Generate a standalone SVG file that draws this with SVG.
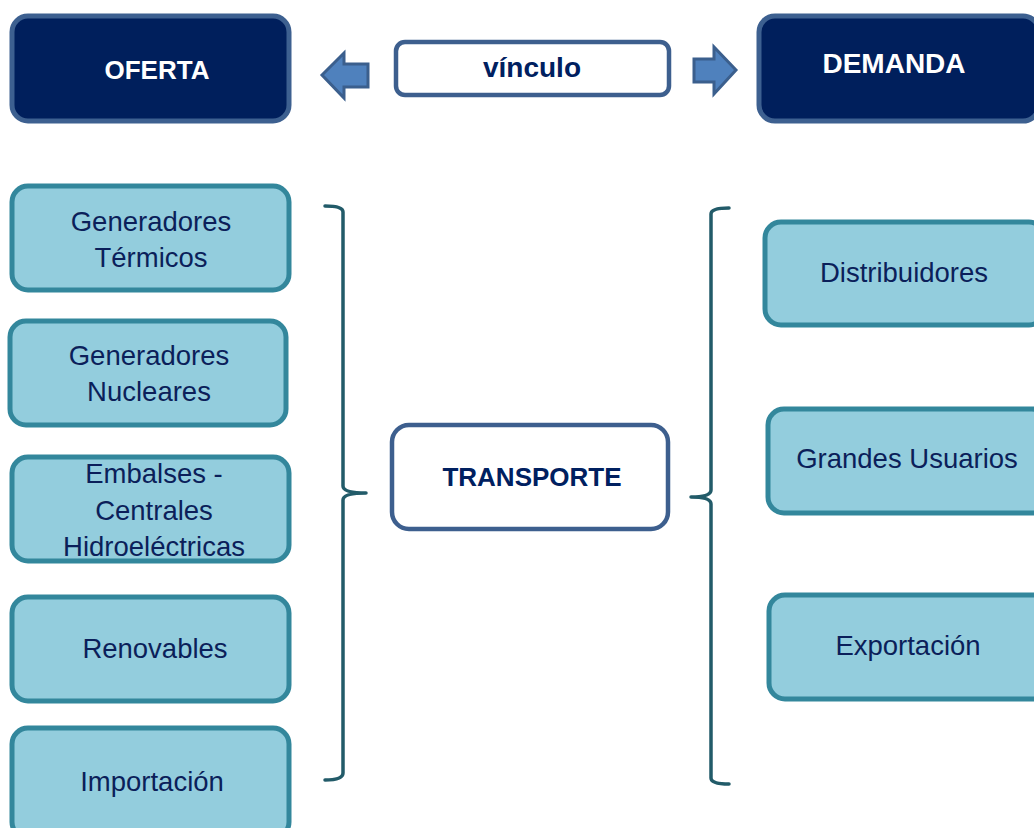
<svg xmlns="http://www.w3.org/2000/svg" width="1034" height="828" viewBox="0 0 1034 828">
  <style>
    .hdr { fill: #001f5c; stroke: #3d6090; stroke-width: 5; }
    .link { fill: #ffffff; stroke: #3d5f8e; stroke-width: 4.5; }
    .item { fill: #93cddd; stroke: #33879c; stroke-width: 5; }
    .arrow { fill: #4f81bd; stroke: #3b5f8d; stroke-width: 3; }
    .brace { fill: none; stroke: #225b69; stroke-width: 3.5; stroke-linecap: round; stroke-linejoin: round; }
    .t { font-family: "Liberation Sans", Arial, sans-serif; font-size: 27.5px; fill: #0b1f5a; text-anchor: middle; }
    .b { font-weight: bold; font-size: 26px; fill: #002060; }
    .w { font-weight: bold; font-size: 26px; fill: #ffffff; }
    .lg { font-size: 28px; }
  </style>

  <!-- header nodes -->
  <g id="oferta">
    <rect class="hdr" x="12" y="16" width="277" height="105" rx="16"/>
    <text class="t w" x="157" y="79">OFERTA</text>
  </g>
  <g id="vinculo">
    <rect class="link" x="396" y="42" width="273" height="53" rx="9"/>
    <text class="t b lg" x="532" y="77">vínculo</text>
  </g>
  <g id="demanda">
    <rect class="hdr" x="759" y="16" width="280" height="105" rx="16"/>
    <text class="t w lg" x="894" y="73">DEMANDA</text>
  </g>

  <!-- supply side -->
  <g id="gen-termicos">
    <rect class="item" x="12" y="186" width="277" height="104" rx="16"/>
    <text class="t" x="151" y="231">Generadores</text>
    <text class="t" x="151" y="267">Térmicos</text>
  </g>
  <g id="gen-nucleares">
    <rect class="item" x="10" y="321" width="276" height="104" rx="16"/>
    <text class="t" x="149" y="365">Generadores</text>
    <text class="t" x="149" y="401">Nucleares</text>
  </g>
  <g id="embalses">
    <rect class="item" x="12" y="457" width="277" height="104" rx="16"/>
    <text class="t" x="154" y="483">Embalses -</text>
    <text class="t" x="154" y="520">Centrales</text>
    <text class="t" x="154" y="556">Hidroeléctricas</text>
  </g>
  <g id="renovables">
    <rect class="item" x="12" y="597" width="277" height="104" rx="16"/>
    <text class="t" x="155" y="658">Renovables</text>
  </g>
  <g id="importacion">
    <rect class="item" x="12" y="728" width="277" height="110" rx="16"/>
    <text class="t" x="152" y="791">Importación</text>
  </g>

  <!-- transport -->
  <g id="transporte">
    <rect class="link" x="392" y="425" width="276" height="104" rx="17"/>
    <text class="t b" x="532" y="486">TRANSPORTE</text>
  </g>

  <!-- demand side -->
  <g id="distribuidores">
    <rect class="item" x="765" y="222" width="280" height="103" rx="16"/>
    <text class="t" x="904" y="282">Distribuidores</text>
  </g>
  <g id="grandes-usuarios">
    <rect class="item" x="768" y="409" width="280" height="104" rx="16"/>
    <text class="t" x="907" y="468">Grandes Usuarios</text>
  </g>
  <g id="exportacion">
    <rect class="item" x="769" y="595" width="280" height="104" rx="16"/>
    <text class="t" x="908" y="655">Exportación</text>
  </g>

  <!-- connectors: arrows and braces -->
  <g id="connectors">
    <polygon class="arrow" points="322,75 344,53 344,64 368,64 368,87 344,87 344,98"/>
    <polygon class="arrow" points="736,70 714,47 714,59 694,59 694,82 714,82 714,94"/>
    <path class="brace" d="M325,206 Q343,206 343,212 L343,486 Q343,493 366,493 Q343,493 343,500 L343,773 Q343,780 325,780"/>
    <path class="brace" d="M729,208 Q711,208 711,214 L711,490 Q711,497 691,497 Q711,497 711,504 L711,778 Q711,784 729,784"/>
  </g>
</svg>
